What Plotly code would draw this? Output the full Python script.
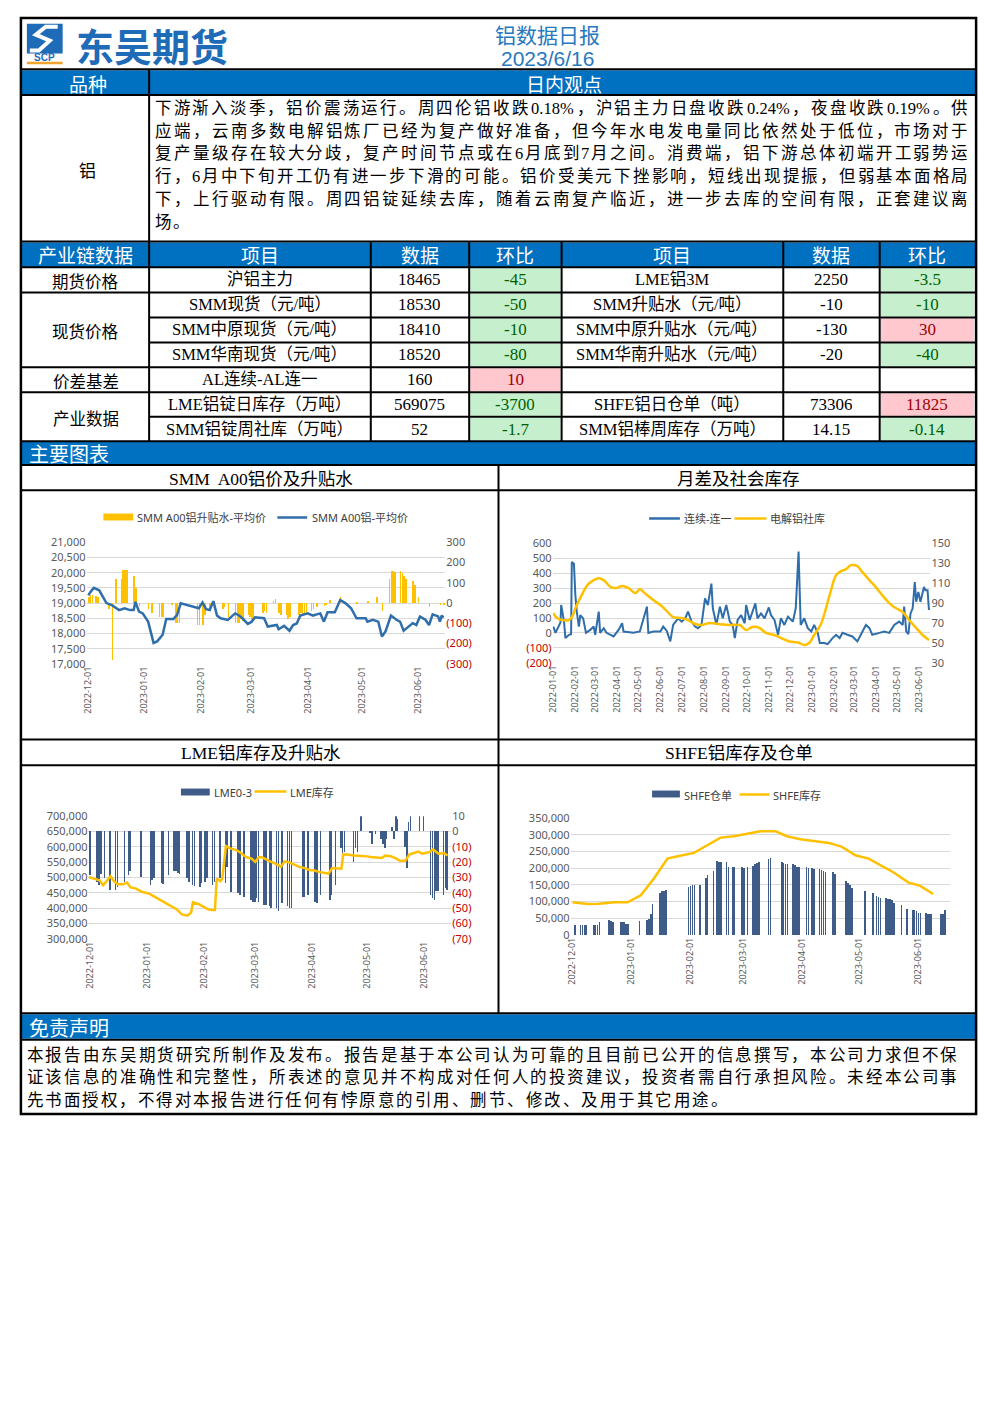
import plotly.graph_objects as go

PAGE_W, PAGE_H = 992, 1403
def X(p): return p / PAGE_W
def Y(p): return 1 - p / PAGE_H

# ---------------- DATA ----------------
report_title = "铝数据日报"
report_date = "2023/6/16"
commentary_lines = [
    "下游渐入淡季，铝价震荡运行。周四伦铝收跌0.18%，沪铝主力日盘收跌0.24%，夜盘收跌0.19%。供",
    "应端，云南多数电解铝炼厂已经为复产做好准备，但今年水电发电量同比依然处于低位，市场对于",
    "复产量级存在较大分歧，复产时间节点或在6月底到7月之间。消费端，铝下游总体初端开工弱势运",
    "行，6月中下旬开工仍有进一步下滑的可能。铝价受美元下挫影响，短线出现提振，但弱基本面格局",
    "下，上行驱动有限。周四铝锭延续去库，随着云南复产临近，进一步去库的空间有限，正套建议离",
    "场。",
]
disclaimer_lines = [
    "本报告由东吴期货研究所制作及发布。报告是基于本公司认为可靠的且目前已公开的信息撰写，本公司力求但不保",
    "证该信息的准确性和完整性，所表述的意见并不构成对任何人的投资建议，投资者需自行承担风险。未经本公司事",
    "先书面授权，不得对本报告进行任何有悖原意的引用、删节、修改、及用于其它用途。",
]
table_header = ["产业链数据", "项目", "数据", "环比", "项目", "数据", "环比"]
row_groups = [("期货价格", 0, 1), ("现货价格", 1, 4), ("价差基差", 4, 5), ("产业数据", 5, 7)]
items_left = ["沪铝主力", "SMM现货（元/吨）", "SMM中原现货（元/吨）", "SMM华南现货（元/吨）",
              "AL连续-AL连一", "LME铝锭日库存（万吨）", "SMM铝锭周社库（万吨）"]
data_left = ["18465", "18530", "18410", "18520", "160", "569075", "52"]
chg_left = ["-45", "-50", "-10", "-80", "10", "-3700", "-1.7"]
items_right = ["LME铝3M", "SMM升贴水（元/吨）", "SMM中原升贴水（元/吨）", "SMM华南升贴水（元/吨）",
               "", "SHFE铝日仓单（吨）", "SMM铝棒周库存（万吨）"]
data_right = ["2250", "-10", "-130", "-20", "", "73306", "14.15"]
chg_right = ["-3.5", "-10", "30", "-40", "", "11825", "-0.14"]

# Chart 1: SMM A00 price and premium
smm_dates = ["2022-12-01","2022-12-02","2022-12-04","2022-12-07","2022-12-11","2022-12-14","2022-12-18",
             "2022-12-21","2022-12-24","2022-12-26","2022-12-27","2022-12-29","2022-12-31","2023-01-03",
             "2023-01-06","2023-01-08","2023-01-11","2023-01-13","2023-01-17","2023-01-19","2023-01-21",
             "2023-01-25","2023-01-31","2023-02-02","2023-02-04","2023-02-06","2023-02-08","2023-02-10",
             "2023-02-12","2023-02-16","2023-02-20","2023-02-22","2023-02-24","2023-02-27","2023-03-01",
             "2023-03-03","2023-03-06","2023-03-08","2023-03-10","2023-03-13","2023-03-15","2023-03-16",
             "2023-03-19","2023-03-22","2023-03-24","2023-03-26","2023-03-28","2023-04-01","2023-04-04",
             "2023-04-06","2023-04-08","2023-04-10","2023-04-12","2023-04-16","2023-04-19","2023-04-22",
             "2023-04-25","2023-04-28","2023-05-03","2023-05-04","2023-05-07","2023-05-10","2023-05-12",
             "2023-05-14","2023-05-17","2023-05-20","2023-05-22","2023-05-24","2023-05-27","2023-05-29",
             "2023-05-31","2023-06-02","2023-06-05","2023-06-07","2023-06-09","2023-06-12","2023-06-13",
             "2023-06-14","2023-06-15"]
smm_price = [19250,19350,19500,19420,19000,18930,18770,18830,18770,18770,19040,18720,18660,18390,
             17690,17740,17960,18480,18480,18610,18990,18930,18830,19020,18800,18770,19065,18590,
             18500,18445,18660,18600,18500,18315,18380,18530,18500,18500,18230,18250,18280,18140,
             18250,18090,18280,18330,18590,18660,18590,18630,18660,18390,18700,18700,19100,18990,
             18830,18500,18500,18390,18450,18390,17900,18065,18590,18450,18390,18090,18230,18340,
             18280,18555,18450,18280,18630,18560,18390,18590,18520]
prem_dates = ["2022-12-01","2022-12-02","2022-12-03","2022-12-05","2022-12-06","2022-12-12","2022-12-14",
              "2022-12-16","2022-12-19","2022-12-20","2022-12-21","2022-12-22","2022-12-26","2022-12-27",
              "2022-12-29","2023-01-03","2023-01-05","2023-01-09","2023-01-10","2023-01-11","2023-01-16",
              "2023-01-18","2023-01-19","2023-01-20","2023-01-30","2023-01-31","2023-02-02","2023-02-03",
              "2023-02-06","2023-02-13","2023-02-14","2023-02-16","2023-02-20","2023-02-21","2023-02-22",
              "2023-02-23","2023-02-24","2023-02-27","2023-02-28","2023-03-01","2023-03-02","2023-03-07",
              "2023-03-08","2023-03-09","2023-03-13","2023-03-14","2023-03-16","2023-03-17","2023-03-20",
              "2023-03-21","2023-03-22","2023-03-27","2023-03-28","2023-03-29","2023-03-30","2023-03-31",
              "2023-04-03","2023-04-04","2023-04-06","2023-04-10","2023-04-11","2023-04-13","2023-04-19",
              "2023-04-20","2023-04-28","2023-05-04","2023-05-09","2023-05-12","2023-05-16","2023-05-17",
              "2023-05-18","2023-05-19","2023-05-22","2023-05-23","2023-05-24","2023-05-25","2023-05-29",
              "2023-05-30","2023-06-01","2023-06-07","2023-06-13","2023-06-15"]
prem_vals = [30,40,40,35,30,-30,-284,120,120,160,160,160,130,75,-15,-30,-50,-70,-70,-70,-10,-100,-100,
             -100,-110,-110,-110,-60,-40,-30,-20,-70,-100,-100,-100,-80,-90,-60,-70,-90,-80,-50,-40,-50,
             10,20,-50,-60,-60,-80,-70,-60,-50,-55,-50,-45,-40,-30,-20,-15,-10,15,30,10,-5,5,30,-40,120,
             155,155,150,155,145,130,120,110,90,30,-20,-10,-10]

# Chart 2: spread (continuous - first) and social inventory
spread_dates = ["2022-01-01","2022-01-04","2022-01-11","2022-01-12","2022-01-16","2022-01-18","2022-01-23",
                "2022-01-26","2022-01-27","2022-01-30","2022-02-01","2022-02-03","2022-02-06","2022-02-08",
                "2022-02-12","2022-02-14","2022-02-16","2022-02-22","2022-02-27","2022-03-01","2022-03-06",
                "2022-03-08","2022-03-13","2022-03-17","2022-03-27","2022-04-03","2022-04-08","2022-04-10",
                "2022-04-17","2022-04-24","2022-05-03","2022-05-13","2022-05-15","2022-05-22","2022-06-01",
                "2022-06-05","2022-06-10","2022-06-15","2022-06-19","2022-06-26","2022-07-01","2022-07-06",
                "2022-07-10","2022-07-15","2022-07-20","2022-07-24","2022-07-29","2022-08-03","2022-08-07",
                "2022-08-12","2022-08-14","2022-08-19","2022-08-24","2022-08-28","2022-09-02","2022-09-07",
                "2022-09-11","2022-09-14","2022-09-18","2022-09-23","2022-09-28","2022-09-30","2022-10-05",
                "2022-10-09","2022-10-13","2022-10-16","2022-10-21","2022-10-26","2022-11-01","2022-11-04",
                "2022-11-09","2022-11-14","2022-11-18","2022-11-23","2022-11-28","2022-12-05","2022-12-09",
                "2022-12-13","2022-12-16","2022-12-21","2022-12-26","2022-12-31","2023-01-04","2023-01-09",
                "2023-01-12","2023-01-18","2023-01-23","2023-01-30","2023-02-04","2023-02-09","2023-02-13",
                "2023-02-20","2023-02-27","2023-03-06","2023-03-11","2023-03-18","2023-03-23","2023-03-27",
                "2023-04-06","2023-04-13","2023-04-20","2023-04-27","2023-05-04","2023-05-09","2023-05-11",
                "2023-05-14","2023-05-17","2023-05-20","2023-05-23","2023-05-26","2023-05-28","2023-05-31",
                "2023-06-03","2023-06-08","2023-06-10","2023-06-13","2023-06-15"]
spread_vals = [43,1,70,187,76,-34,-12,-8,474,463,253,143,43,120,98,54,1,21,43,-12,143,1,32,1,-23,21,65,
               10,6,1,10,176,1,10,10,43,14,-56,54,98,76,98,143,76,43,32,54,231,187,330,165,54,176,98,187,
               76,54,-34,87,120,65,187,87,143,198,98,131,98,171,120,87,-12,98,54,109,76,165,545,54,98,32,
               10,54,1,-67,-67,-74,-34,-12,-34,1,-12,-23,-56,-12,54,32,-12,1,10,1,54,76,54,176,10,-8,131,
               165,341,209,275,209,308,286,286,154]
social_dates = ["2022-01-01","2022-01-06","2022-01-13","2022-01-23","2022-01-27","2022-02-03","2022-02-10",
                "2022-02-18","2022-02-27","2022-03-06","2022-03-13","2022-03-23","2022-03-30","2022-04-08",
                "2022-04-17","2022-04-27","2022-05-03","2022-05-10","2022-05-22","2022-06-01","2022-06-10",
                "2022-06-19","2022-07-01","2022-07-10","2022-07-20","2022-07-29","2022-08-10","2022-08-22",
                "2022-09-07","2022-09-21","2022-09-30","2022-10-09","2022-10-19","2022-10-28","2022-11-09",
                "2022-11-18","2022-11-30","2022-12-12","2022-12-21","2022-12-28","2023-01-04","2023-01-13",
                "2023-01-20","2023-01-27","2023-02-04","2023-02-11","2023-02-18","2023-02-25","2023-03-06",
                "2023-03-13","2023-03-23","2023-04-01","2023-04-10","2023-04-20","2023-04-29","2023-05-09",
                "2023-05-18","2023-05-28","2023-06-06","2023-06-15"]
social_vals = [80,75,73,73,76,88,98,108,113,115,113,106,105,107,105,100,104,100,93,88,82,76,75,73,69,68,
               70,69,68,68,63,66,65,60,58,55,51.5,50.5,48,50,58,68,83,101,118,122,124,128,127,121,113,106,
               98,90,85,81,73,65,58,53]

# Chart 3: LME inventory and 0-3 spread
lme_inv_dates = ["2022-11-30","2022-12-03","2022-12-06","2022-12-08","2022-12-10","2022-12-12","2022-12-14",
                 "2022-12-16","2022-12-19","2022-12-21","2022-12-23","2022-12-26","2022-12-29","2023-01-02",
                 "2023-01-04","2023-01-08","2023-01-11","2023-01-14","2023-01-17","2023-01-20","2023-01-23",
                 "2023-01-25","2023-01-26","2023-01-29","2023-01-31","2023-02-03","2023-02-05","2023-02-07",
                 "2023-02-08","2023-02-10","2023-02-11","2023-02-12","2023-02-13","2023-02-15","2023-02-19",
                 "2023-02-21","2023-02-24","2023-02-27","2023-03-01","2023-03-03","2023-03-05","2023-03-08",
                 "2023-03-11","2023-03-14","2023-03-15","2023-03-17","2023-03-20","2023-03-23","2023-03-25",
                 "2023-03-28","2023-03-31","2023-04-02","2023-04-05","2023-04-08","2023-04-10","2023-04-12",
                 "2023-04-15","2023-04-17","2023-04-18","2023-04-20","2023-04-24","2023-04-27","2023-04-30",
                 "2023-05-03","2023-05-07","2023-05-09","2023-05-11","2023-05-14","2023-05-17","2023-05-19",
                 "2023-05-22","2023-05-24","2023-05-27","2023-05-29","2023-05-31","2023-06-04","2023-06-06",
                 "2023-06-09","2023-06-12","2023-06-14"]
lme_inv_vals = [502000,497000,491000,475000,491000,504000,488000,478000,478000,484000,468000,464000,454000,
                448000,441000,427000,416000,405000,397000,380000,376000,386000,419000,414000,407000,397000,
                394000,394000,497000,488000,497000,545000,603000,596000,589000,581000,567000,562000,551000,
                567000,566000,556000,549000,540000,535000,553000,549000,542000,535000,531000,524000,524000,
                518000,515000,513000,531000,531000,529000,575000,575000,572000,572000,570000,567000,564000,
                564000,572000,570000,562000,555000,555000,575000,581000,585000,578000,583000,592000,578000,
                580000,572000]
lme_sp_dates = ["2022-12-01","2022-12-05","2022-12-06","2022-12-07","2022-12-09","2022-12-12","2022-12-15",
                "2022-12-16","2022-12-20","2022-12-22","2022-12-23","2022-12-29","2023-01-03","2023-01-04",
                "2023-01-05","2023-01-09","2023-01-10","2023-01-13","2023-01-16","2023-01-17","2023-01-18",
                "2023-01-19","2023-01-23","2023-01-24","2023-01-26","2023-01-27","2023-01-30","2023-01-31",
                "2023-02-02","2023-02-03","2023-02-06","2023-02-07","2023-02-10","2023-02-13","2023-02-14",
                "2023-02-16","2023-02-20","2023-02-21","2023-02-23","2023-02-27","2023-02-28","2023-03-01",
                "2023-03-02","2023-03-03","2023-03-06","2023-03-07","2023-03-09","2023-03-10","2023-03-13",
                "2023-03-14","2023-03-16","2023-03-19","2023-03-20","2023-03-21","2023-03-27","2023-03-28",
                "2023-03-30","2023-04-03","2023-04-04","2023-04-06","2023-04-11","2023-04-12","2023-04-14",
                "2023-04-17","2023-04-18","2023-04-19","2023-04-24","2023-04-25","2023-04-26","2023-04-28",
                "2023-05-03","2023-05-04","2023-05-06","2023-05-09","2023-05-10","2023-05-11","2023-05-12",
                "2023-05-15","2023-05-16","2023-05-17","2023-05-18","2023-05-22","2023-05-23","2023-05-24",
                "2023-05-25","2023-05-30","2023-06-01","2023-06-05","2023-06-06","2023-06-07","2023-06-08",
                "2023-06-09","2023-06-12","2023-06-13","2023-06-14"]
lme_sp_vals = [-28.5,-33,-35,-28,-30.6,-38,-38,-36,-33,-28.5,-26,-29.6,-35,-31.7,-30.6,-34,-34.5,-28.5,
               -26,-26,-27,-28,-30.6,-33,-35,-35.4,-36,-34,-33,-30.6,-35,-33,-30.6,-34,-23,-39.7,-40,
               -41.5,-43,-44.7,-45.8,-45.8,-43.6,-45.8,-48,-48,-49,-49.7,-50,-52,-47,-49,-49.7,-49.7,-43,
               -42.5,-41.5,-45.8,-47,-41.5,-44.7,-41.5,-35,-11,-14.4,-13.4,-19.8,-11,-13.4,10,-1,-8,-1.5,
               -4.7,-8,-11,-4.7,3,-4.7,10,8,-10,-24,6,10,10,10,-41.5,-43.6,-44.7,-39,-39,-41.5,-37,-38]

# Chart 4: SHFE inventory and warrants
shfe_inv_dates = ["2022-12-01","2022-12-04","2022-12-09","2022-12-15","2022-12-23","2022-12-30","2023-01-06",
                  "2023-01-13","2023-01-20","2023-01-26","2023-02-03","2023-02-10","2023-02-17","2023-02-24",
                  "2023-03-02","2023-03-10","2023-03-18","2023-03-24","2023-03-31","2023-04-08","2023-04-15",
                  "2023-04-22","2023-04-29","2023-05-06","2023-05-12","2023-05-19","2023-05-27","2023-06-02",
                  "2023-06-09"]
shfe_inv_vals = [98000,96000,93000,94000,98000,98000,119000,170000,229000,237000,246000,269000,292000,
                 296000,302000,311000,311000,296000,287000,281000,276000,264000,239000,229000,210000,
                 188000,157000,148000,123000]
shfe_wr_dates = ["2022-12-02","2022-12-05","2022-12-06","2022-12-07","2022-12-08","2022-12-12","2022-12-13",
                 "2022-12-14","2022-12-15","2022-12-20","2022-12-21","2022-12-22","2022-12-26","2022-12-27",
                 "2022-12-28","2022-12-29","2022-12-30","2023-01-05","2023-01-09","2023-01-10","2023-01-11",
                 "2023-01-12","2023-01-16","2023-01-17","2023-01-18","2023-01-19","2023-01-31","2023-02-01",
                 "2023-02-02","2023-02-03","2023-02-06","2023-02-09","2023-02-10","2023-02-13","2023-02-15",
                 "2023-02-16","2023-02-17","2023-02-20","2023-02-21","2023-02-23","2023-02-24","2023-02-28",
                 "2023-03-01","2023-03-03","2023-03-06","2023-03-07","2023-03-08","2023-03-09","2023-03-14",
                 "2023-03-15","2023-03-21","2023-03-22","2023-03-23","2023-03-24","2023-03-27","2023-03-28",
                 "2023-03-29","2023-03-30","2023-04-03","2023-04-04","2023-04-06","2023-04-07","2023-04-10",
                 "2023-04-11","2023-04-12","2023-04-13","2023-04-17","2023-04-18","2023-04-24","2023-04-25",
                 "2023-04-26","2023-04-27","2023-05-04","2023-05-08","2023-05-10","2023-05-11","2023-05-12",
                 "2023-05-15","2023-05-16","2023-05-17","2023-05-18","2023-05-19","2023-05-23","2023-05-26",
                 "2023-05-29","2023-05-30","2023-05-31","2023-06-01","2023-06-02","2023-06-05","2023-06-06",
                 "2023-06-07","2023-06-08","2023-06-13","2023-06-14","2023-06-15"]
shfe_wr_vals = [30000,30000,30000,30000,30000,30000,30000,30000,37000,44000,40000,37000,37000,37000,37000,
                32000,32000,42000,44000,46000,61000,91000,126000,131000,132000,135000,143000,145000,148000,
                150000,150000,170000,180000,190000,221000,219000,217000,217000,202000,202000,202000,202000,
                201000,204000,207000,211000,216000,219000,227000,231000,217000,215000,213000,211000,211000,
                209000,204000,204000,204000,201000,199000,198000,197000,193000,190000,188000,187000,182000,
                160000,155000,150000,140000,131000,126000,115000,113000,109000,111000,108000,106000,103000,
                96000,88000,78000,74000,73000,71000,66000,66000,66000,63000,63000,63000,61000,61000,73000]

month_ticks_1 = ["2022-12-01","2023-01-01","2023-02-01","2023-03-01","2023-04-01","2023-05-01","2023-06-01"]
month_ticks_2 = ["2022-01-01","2022-02-01","2022-03-01","2022-04-01","2022-05-01","2022-06-01","2022-07-01",
                 "2022-08-01","2022-09-01","2022-10-01","2022-11-01","2022-12-01","2023-01-01","2023-02-01",
                 "2023-03-01","2023-04-01","2023-05-01","2023-06-01"]

# ---------------- STYLE ----------------
BLUE = "#0070C0"
NAVY = "#1E6BB8"
GOLD = "#FFC000"
LINE_BLUE = "#2F6EAA"
BAR_BLUE = "#3E5C87"
GRAY = "#595959"
GRID = "#D9D9D9"
RED = "#C00000"
CJK = "Noto Sans CJK SC"
MIX = "Liberation Serif, Noto Sans CJK SC"
TICKF = "Noto Sans, Noto Sans CJK SC"

shapes, anns = [], []

def rect(x0, y0, x1, y1, fill, lw=0, lc=None):
    shapes.append(dict(type="rect", xref="paper", yref="paper", x0=X(x0), x1=X(x1), y0=Y(y1), y1=Y(y0),
                       fillcolor=fill, line=dict(width=lw, color=lc or "rgba(0,0,0,0)")))

def hline(x0, x1, y, w=2, c="black"):
    shapes.append(dict(type="line", xref="paper", yref="paper", x0=X(x0), x1=X(x1), y0=Y(y), y1=Y(y),
                       line=dict(color=c, width=w)))

def vline(x, y0, y1, w=2, c="black"):
    shapes.append(dict(type="line", xref="paper", yref="paper", x0=X(x), x1=X(x), y0=Y(y0), y1=Y(y1),
                       line=dict(color=c, width=w)))

def txt(x, y, s, size=17, color="black", anchor="center", family=CJK, weight="normal", h=None):
    a = dict(x=X(x), y=Y(y), xref="paper", yref="paper", text=s, showarrow=False,
             xanchor=anchor, yanchor="middle", borderpad=0, valign="middle",
             font=dict(size=size, color=color, family=family, weight=weight))
    if h:
        a["height"] = h
    anns.append(a)

def tokens(s):
    out = []
    for ch in s:
        if ord(ch) < 128 and out and ord(out[-1][0]) < 128:
            out[-1] += ch
        else:
            out.append(ch)
    return out

def put_line(s, x0, x1, y, size, adv, justify):
    toks = tokens(s)
    units = [len(t) * 0.5 if ord(t[0]) < 128 else 1.0 for t in toks]
    natural = sum(units) * adv
    gap = (x1 - x0 - natural) / (len(toks) - 1) if (justify and len(toks) > 1) else 0
    x = x0
    for t, u in zip(toks, units):
        w = u * adv
        txt(x + w / 2, y, t, size=size, family=MIX, h=20)
        x += w + gap

# ---------------- PAGE FRAME ----------------
for (y0, y1) in [(63, 88), (237, 262), (438, 462), (1017, 1042)]:
    rect(16, y0, 975, y1, BLUE)

# Logo
rect(21, 16, 57, 46, NAVY)
def pth(pts):
    s = "M %f %f" % (X(pts[0][0]), Y(pts[0][1]))
    for p in pts[1:]:
        s += " L %f %f" % (X(p[0]), Y(p[1]))
    return s
shapes.append(dict(type="path", xref="paper", yref="paper",
                   path=pth([(52, 19), (40, 19), (30, 27), (44, 33), (33, 43), (24, 43)]),
                   line=dict(color="white", width=4)))
txt(39, 50, "<b>SCP</b>", size=10, color=NAVY, family="Liberation Sans", h=8)
hline(21, 57, 55.5, w=2.5, c="#F0A430")
txt(147, 36, "东吴期货", size=38, color=NAVY, weight="bold", h=44)
txt(545, 26, report_title, size=21, color="#2878BE", h=24)
txt(545, 51, report_date, size=21, color="#2878BE", family="Liberation Sans", h=22)

txt(82, 76, "品种", size=19, color="white", h=23)
txt(561, 76, "日内观点", size=19, color="white", h=23)
txt(82, 163, "铝", size=17, h=22)

for i, line in enumerate(commentary_lines):
    put_line(line, 149, 969, 101 + 23 * i, 16.5, 18.6, i < len(commentary_lines) - 1)

# Table
C = [16, 144, 367, 466, 559, 782, 879, 975]
R = [262, 287.5, 312.8, 338, 363.2, 388.4, 413.2, 438]
for j, h in enumerate(table_header):
    txt((C[j] + C[j + 1]) / 2, 249.5, h, size=19, color="white", h=23)

def chg_style(v):
    if v == "":
        return None, "black"
    if v.startswith("-"):
        return "#C6EFCE", "#006100"
    return "#FFC7CE", "#9C0006"

for i in range(7):
    yc = (R[i] + R[i + 1]) / 2
    for (col, vals) in [(3, chg_left), (6, chg_right)]:
        fill, col_txt = chg_style(vals[i])
        if fill:
            rect(C[col] + 1, R[i] + 1, C[col + 1] - 1, R[i + 1] - 1, fill)
    txt((C[1] + C[2]) / 2, yc, items_left[i], size=16.5, family=MIX, h=21)
    txt((C[2] + C[3]) / 2, yc, data_left[i], size=17, family=MIX, h=21)
    f, ct = chg_style(chg_left[i])
    txt((C[3] + C[4]) / 2, yc, chg_left[i], size=17, family=MIX, color=ct, h=21)
    if items_right[i]:
        txt((C[4] + C[5]) / 2, yc, items_right[i], size=16.5, family=MIX, h=21)
        txt((C[5] + C[6]) / 2, yc, data_right[i], size=17, family=MIX, h=21)
        f, ct = chg_style(chg_right[i])
        txt((C[6] + C[7]) / 2, yc, chg_right[i], size=17, family=MIX, color=ct, h=21)
for (name, a, b) in row_groups:
    txt((C[0] + C[1]) / 2, (R[a] + R[b]) / 2 + 0.5, name, size=16.5, h=21)

txt(22, 450, "主要图表", size=20, color="white", anchor="left", h=22)
txt(22, 1030, "免责声明", size=20, color="white", anchor="left", h=22)
for i, line in enumerate(disclaimer_lines):
    put_line(line, 20, 958, 1058 + 23 * i, 16.5, 18.6, i < len(disclaimer_lines) - 1)

# chart titles
txt(257, 476, "SMM  A00铝价及升贴水", size=17.5, family=MIX, h=22)
txt(737, 476, "月差及社会库存", size=17.5, family=MIX, h=22)
txt(257, 753, "LME铝库存及升贴水", size=17.5, family=MIX, h=22)
txt(737, 753, "SHFE铝库存及仓单", size=17.5, family=MIX, h=22)

# chart legends (manual)
LG = "#404040"
rect(98, 511, 128, 518, GOLD)
txt(131, 515, "SMM A00铝升贴水-平均价", size=11, color=LG, anchor="left", family=TICKF, h=14)
hline(273, 303, 515, w=2.5, c=LINE_BLUE)
txt(307, 515, "SMM A00铝-平均价", size=11, color=LG, anchor="left", family=TICKF, h=14)
hline(647, 678, 516, w=2.5, c=LINE_BLUE)
txt(681, 516, "连续-连一", size=11, color=LG, anchor="left", family=TICKF, h=14)
hline(733, 765, 516, w=2.5, c=GOLD)
txt(768, 516, "电解铝社库", size=11, color=LG, anchor="left", family=TICKF, h=14)
rect(176, 789, 205, 796, BAR_BLUE)
txt(208, 792, "LME0-3", size=11, color=LG, anchor="left", family=TICKF, h=14)
hline(250, 282, 792, w=2.5, c=GOLD)
txt(285, 792, "LME库存", size=11, color=LG, anchor="left", family=TICKF, h=14)
rect(650, 791, 678, 798, BAR_BLUE)
txt(681, 795, "SHFE仓单", size=11, color=LG, anchor="left", family=TICKF, h=14)
hline(738, 768, 795, w=2.5, c=GOLD)
txt(771, 795, "SHFE库存", size=11, color=LG, anchor="left", family=TICKF, h=14)

# Lines (borders)
for y in [62, 88, 236, 262, R[1], R[4], R[5], 438, 462, 487.5, 739.5, 765.5, 1016, 1043]:
    hline(15, 976, y)
for y in [R[2], R[3], R[6]]:
    hline(C[1], 976, y)
vline(144, 62, 236)
for x in C[1:-1]:
    vline(x, 236, 438)
vline(495.5, 462, 1016)
shapes.append(dict(type="rect", xref="paper", yref="paper", x0=X(15), x1=X(976), y0=Y(1118), y1=Y(10),
                   line=dict(color="black", width=2.5)))

# ---------------- CHARTS ----------------
DAY = 86400000
fig = go.Figure()
fig.add_trace(go.Bar(x=prem_dates, y=prem_vals, marker=dict(color=GOLD, line=dict(width=0)),
                     width=DAY * 0.3, xaxis="x", yaxis="y", showlegend=False))
fig.add_trace(go.Scatter(x=smm_dates, y=smm_price, mode="lines", line=dict(color=LINE_BLUE, width=2.5),
                         xaxis="x", yaxis="y2", showlegend=False))
fig.add_trace(go.Scatter(x=spread_dates, y=spread_vals, mode="lines", line=dict(color=LINE_BLUE, width=2),
                         xaxis="x2", yaxis="y3", showlegend=False))
fig.add_trace(go.Scatter(x=social_dates, y=social_vals, mode="lines", line=dict(color=GOLD, width=2.5, shape="spline"),
                         xaxis="x2", yaxis="y4", showlegend=False))
fig.add_trace(go.Bar(x=lme_sp_dates, y=lme_sp_vals, marker=dict(color=BAR_BLUE, line=dict(width=0)),
                     width=DAY * 0.3, xaxis="x3", yaxis="y5", showlegend=False))
fig.add_trace(go.Scatter(x=lme_inv_dates, y=lme_inv_vals, mode="lines", line=dict(color=GOLD, width=2.5),
                         xaxis="x3", yaxis="y6", showlegend=False))
fig.add_trace(go.Bar(x=shfe_wr_dates, y=shfe_wr_vals, marker=dict(color=BAR_BLUE, line=dict(width=0)),
                     width=DAY * 0.3, xaxis="x4", yaxis="y7", showlegend=False))
fig.add_trace(go.Scatter(x=shfe_inv_dates, y=shfe_inv_vals, mode="lines", line=dict(color=GOLD, width=2.5),
                         xaxis="x4", yaxis="y7", showlegend=False))

tf = dict(size=11, color=GRAY, family=TICKF)
def xax(x0, x1, anchor, rng, ticks):
    return dict(type="date", domain=[X(x0), X(x1)], anchor=anchor, range=rng, tickmode="array",
                tickvals=ticks, tickformat="%Y-%m-%d", tickangle=-90,
                tickfont=dict(size=9, color=GRAY, family=TICKF), showgrid=False, zeroline=False,
                showline=False, ticks="", fixedrange=True)

def neg(v, fmt):
    return ('<span style="color:%s">(%s)</span>' % (RED, fmt(-v))) if v < 0 else fmt(v)

fig.update_layout(
    width=PAGE_W, height=PAGE_H, margin=dict(l=0, r=0, t=0, b=0), paper_bgcolor="white", plot_bgcolor="white",
    showlegend=False, bargap=0, shapes=shapes, annotations=anns,
    xaxis=xax(81, 442, "y", ["2022-11-30", "2023-06-16"], month_ticks_1),
    yaxis=dict(domain=[Y(663), Y(540)], anchor="x", side="right", range=[-300, 300], tickmode="array",
               tickvals=list(range(-300, 301, 100)),
               ticktext=[neg(v, lambda a: "%d" % a) for v in range(-300, 301, 100)],
               tickfont=tf, showgrid=False, zeroline=False, ticks="", fixedrange=True),
    yaxis2=dict(overlaying="y", anchor="x", side="left", range=[17000, 21000], dtick=500, tickformat=",",
                tickfont=tf, showgrid=True, gridcolor=GRID, gridwidth=1, zeroline=False, ticks="", fixedrange=True),
    xaxis2=xax(550, 930, "y3", ["2021-12-31", "2023-06-17"], month_ticks_2),
    yaxis3=dict(domain=[Y(662), Y(541)], anchor="x2", side="left", range=[-200, 600], tickmode="array",
                tickvals=list(range(-200, 601, 100)),
                ticktext=[neg(v, lambda a: "%d" % a) for v in range(-200, 601, 100)],
                tickfont=tf, showgrid=True, gridcolor=GRID, zeroline=False, ticks="", fixedrange=True),
    yaxis4=dict(overlaying="y3", anchor="x2", side="right", range=[30, 150], tickmode="array",
                tickvals=list(range(30, 151, 20)), tickfont=tf,
                showgrid=False, zeroline=False, ticks="", fixedrange=True),
    xaxis3=xax(83, 448, "y5", ["2022-11-30", "2023-06-16"], month_ticks_1),
    yaxis5=dict(domain=[Y(941), Y(817)], anchor="x3", side="right", range=[-70, 10], tickmode="array",
                tickvals=list(range(-70, 11, 10)),
                ticktext=[neg(v, lambda a: "%d" % a) for v in range(-70, 11, 10)],
                tickfont=tf, showgrid=False, zeroline=False, ticks="", fixedrange=True),
    yaxis6=dict(overlaying="y5", anchor="x3", side="left", range=[300000, 700000], dtick=50000, tickformat=",",
                tickfont=tf, showgrid=True, gridcolor=GRID, zeroline=False, ticks="", fixedrange=True),
    xaxis4=xax(568, 950, "y7", ["2022-11-30", "2023-06-18"], month_ticks_1),
    yaxis7=dict(domain=[Y(937), Y(819)], anchor="x4", side="left", range=[0, 350000], dtick=50000,
                tickformat=",", tickfont=tf, showgrid=True, gridcolor=GRID, zeroline=False, ticks="",
                fixedrange=True),
)

fig.write_html("out.html", post_script="document.body.style.margin='0';")
